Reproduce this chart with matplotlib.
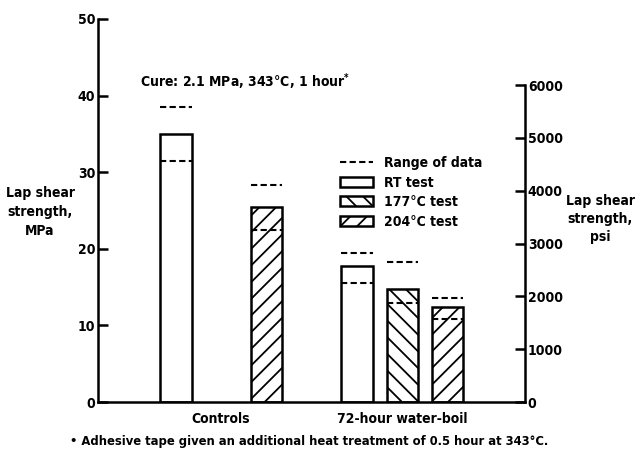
import matplotlib
matplotlib.use("Agg")
import matplotlib.pyplot as plt
from matplotlib import font_manager
from matplotlib.patches import Patch
from matplotlib.lines import Line2D

# Prefer a condensed bold face; otherwise the narrower Liberation Sans
_fp = font_manager.FontProperties(family="DejaVu Sans", stretch="condensed",
                                  weight="bold")
if "Condensed" in font_manager.findfont(_fp):
    plt.rcParams["font.family"] = ["DejaVu Sans"]
    plt.rcParams["font.stretch"] = "condensed"
    FS = 10.0
else:
    plt.rcParams["font.family"] = ["Liberation Sans", "DejaVu Sans"]
    FS = 9.6
plt.rcParams["font.weight"] = "bold"
plt.rcParams["hatch.linewidth"] = 1.3
plt.rcParams["hatch.color"] = "black"

# ---- data (MPa) ----
groups = ["Controls", "72-hour water-boil"]
tests = ["RT test", "177\u00b0C test", "204\u00b0C test"]
hatches = ["", "\\\\", "//"]

# slot index of each bar (Controls has no 177 °C bar)
bar_slot = [0, 2, 4, 5, 6]
bar_test = [0, 2, 0, 1, 2]
bar_mean = [35.0, 25.5, 17.8, 14.8, 12.4]
range_high = [38.5, 28.3, 19.5, 18.3, 13.6]
range_low = [31.5, 22.4, 15.5, 12.9, 10.8]
group_center = [1, 5]

MPA_TO_PSI = 145.038
left_ticks = [0, 10, 20, 30, 40, 50]
right_ticks = [0, 1000, 2000, 3000, 4000, 5000, 6000]

W, H = 635, 454
fig = plt.figure(figsize=(W / 100, H / 100), dpi=100)
ax = fig.add_axes([98 / W, 1 - 402 / H, (525 - 98) / W, (402 - 19) / H])

LW = 1.8
bw = 0.69
for s, t, m in zip(bar_slot, bar_test, bar_mean):
    ax.bar(s, m, width=bw, facecolor="white", edgecolor="black",
           linewidth=LW, hatch=hatches[t], zorder=2)

dash = (0, (3.0, 1.6))
for s, hi, lo in zip(bar_slot, range_high, range_low):
    ax.hlines([hi, lo], s - bw / 2, s + bw / 2, colors="black",
              linewidth=1.5, linestyles=[dash], zorder=3)

ax.set_xlim(-1.72, 7.71)
ax.set_ylim(0, 50)
ax.set_yticks(left_ticks)
ax.spines["top"].set_visible(False)
ax.spines["right"].set_visible(False)
for sp in ("left", "bottom"):
    ax.spines[sp].set_linewidth(LW)
ax.tick_params(axis="y", direction="in", length=7, width=LW, pad=2,
               labelsize=FS)
ax.set_xticks(group_center)
ax.set_xticklabels(groups, fontsize=FS)
ax.tick_params(axis="x", length=0, pad=7)

# psi axis on the right
ax2 = ax.twinx()
ax2.set_ylim(0, 50 * MPA_TO_PSI)
ax2.set_yticks(right_ticks)
ax2.spines["right"].set_bounds(0, 6000)
ax2.spines["right"].set_linewidth(LW)
for sp in ("top", "left", "bottom"):
    ax2.spines[sp].set_visible(False)
ax2.tick_params(axis="y", direction="in", length=7, width=LW, pad=2,
                labelsize=FS)

# axis titles
fig.text(40 / W, 1 - 212 / H, "Lap shear\nstrength,\nMPa", ha="center",
         va="center", fontsize=FS, linespacing=1.45)
fig.text(600 / W, 1 - 219 / H, "Lap shear\nstrength,\npsi", ha="center",
         va="center", fontsize=FS, linespacing=1.4)

fig.text(140 / W, 1 - 82 / H, "Cure: 2.1 MPa, 343\u00b0C, 1 hour$^{*}$",
         ha="left", va="center", fontsize=FS)
fig.text(70 / W, 1 - 442 / H,
         "\u2022 Adhesive tape given an additional heat treatment of 0.5 hour at 343\u00b0C.",
         ha="left", va="center", fontsize=FS * 0.93)

handles = [Line2D([], [], color="black", linewidth=1.5, linestyle=dash)]
for h in hatches:
    handles.append(Patch(facecolor="white", edgecolor="black",
                         linewidth=LW, hatch=h))
labels = ["Range of data"] + tests
ax.legend(handles, labels, loc="upper left",
          bbox_to_anchor=(340 / W, 1 - 156 / H), bbox_transform=fig.transFigure,
          frameon=False, fontsize=FS, handlelength=2.4, handleheight=0.75,
          handletextpad=0.8, labelspacing=0.4, borderpad=0, borderaxespad=0)

fig.savefig("out.png", dpi=100)
